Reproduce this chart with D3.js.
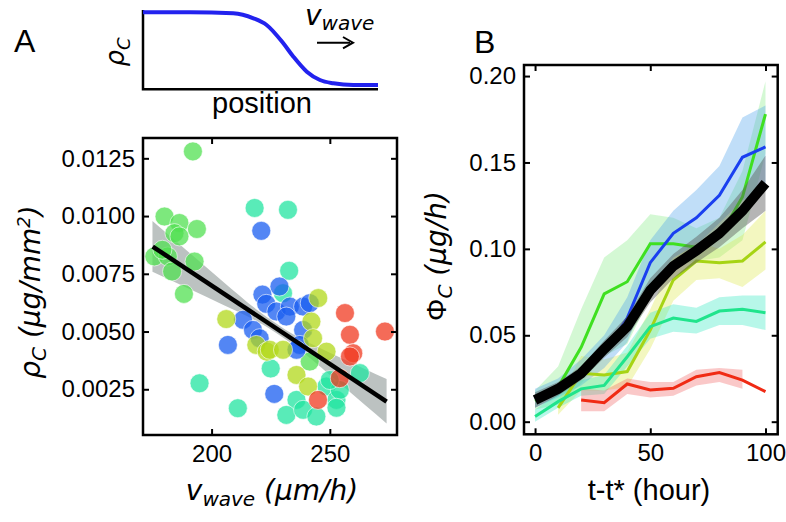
<!DOCTYPE html>
<html lang="en">
<head>
<meta charset="UTF-8">
<title>Wave speed and density</title>
<script src="https://cdn.jsdelivr.net/npm/d3@7"></script>
<style>
  body { margin: 0; background: #fff; }
  svg { display: block; font-family: "Liberation Sans", Arial, sans-serif; }
  .tick text { font-size: 24px; fill: #000; }
  .tick line { stroke: #000; stroke-width: 2px; }
  .math { font-family: "DejaVu Sans", sans-serif; font-style: oblique; }
</style>
</head>
<body>
<svg id="fig" width="786" height="522"></svg>
<script>
// ---- panel A inset: schematic density profile ----
const profilePos = [0, 0.2, 0.384, 0.47, 0.526, 0.597, 0.64, 0.697, 0.753, 0.81, 0.895, 1.0];
const profileRho = [0.971, 0.971, 0.958, 0.895, 0.811, 0.58, 0.411, 0.222, 0.117, 0.076, 0.054, 0.054];

// ---- panel A scatter: wave speed vs density, one array per group ----
const ptsGreen = [[192.1, 0.0128], [180.1, 0.00998], [186.4, 0.0097], [193.8, 0.00944], [184.3, 0.00926],
  [186.4, 0.00912], [175.8, 0.00825], [181.5, 0.00825], [192.8, 0.00803], [183.3, 0.0076],
  [179.2, 0.00854], [188.3, 0.00663], [241.5, 0.0037]];
const ptsBlue = [[221, 0.00936], [228.7, 0.00695], [221.5, 0.0066], [223.1, 0.0062], [213.3, 0.00551],
  [217.5, 0.00507], [220.3, 0.00471], [206.9, 0.00442], [226.5, 0.0023], [227.4, 0.00587],
  [233.1, 0.00608], [238.7, 0.00608], [241.5, 0.00623], [231.6, 0.00565], [238.7, 0.00507],
  [237.3, 0.00442], [235.9, 0.00421]];
const ptsYellow = [[206.2, 0.00554], [218.9, 0.00442], [223.3, 0.00413], [245.1, 0.00645], [242.2, 0.00543],
  [242.9, 0.00471], [224.6, 0.00421], [230.2, 0.00421], [248.6, 0.00413], [235.9, 0.00312], [240.8, 0.00262]];
const ptsTeal = [[218.2, 0.01035], [232.3, 0.01027], [232.8, 0.00763], [194.9, 0.00276], [211.1, 0.00168],
  [225, 0.0034], [230.2, 0.00666], [235.9, 0.00204], [231.6, 0.00139], [238.7, 0.00161],
  [244.3, 0.00132], [248.6, 0.00262], [252.8, 0.00204], [254.2, 0.00247], [262.7, 0.0032],
  [250, 0.0029], [252.8, 0.0017]];
const ptsRed = [[245, 0.00204], [254.2, 0.00298], [256.4, 0.0058], [258.5, 0.00486], [259.9, 0.00406],
  [258.5, 0.00392], [273.3, 0.005]];

// regression line and its confidence band
const fitV = [175.1, 274.0];
const fitRho = [0.00868, 0.00197];
const bandV = [175, 190, 205, 220, 235, 250, 265, 274];
const bandLo = [0.00759, 0.00687, 0.00615, 0.0054, 0.00439, 0.00312, 0.00181, 0.00102];
const bandHi = [0.00979, 0.00847, 0.00715, 0.00588, 0.00485, 0.00408, 0.00337, 0.00294];

const ticksVA = [200, 250];
const ticksRhoA = [0.0025, 0.005, 0.0075, 0.01, 0.0125];

// ---- panel B: flux vs time ----
const tAll = [0, 10, 20, 30, 40, 50, 60, 70, 80, 90, 100];
const meanFlux = [0.0125, 0.019, 0.028, 0.042, 0.055, 0.076, 0.09, 0.099, 0.109, 0.122, 0.138];
const meanLo = [0.008, 0.015, 0.024, 0.037, 0.049, 0.069, 0.083, 0.092, 0.101, 0.112, 0.122];
const meanHi = [0.017, 0.023, 0.032, 0.047, 0.061, 0.083, 0.097, 0.107, 0.118, 0.134, 0.154];

const blueFlux = [0.013, 0.019, 0.028, 0.04, 0.06, 0.092, 0.109, 0.118, 0.131, 0.153, 0.159];
const blueLo = [0.008, 0.014, 0.021, 0.031, 0.046, 0.078, 0.095, 0.102, 0.115, 0.128, 0.135];
const blueHi = [0.019, 0.025, 0.036, 0.05, 0.072, 0.105, 0.122, 0.134, 0.148, 0.176, 0.183];

const greenFlux = [0.012, 0.02, 0.043, 0.074, 0.081, 0.103, 0.103, 0.101, 0.107, 0.13, 0.178];
const greenLo = [0.007, 0.01, 0.022, 0.038, 0.045, 0.072, 0.09, 0.093, 0.095, 0.105, 0.155];
const greenHi = [0.018, 0.032, 0.065, 0.095, 0.105, 0.12, 0.118, 0.112, 0.118, 0.145, 0.197];

const tYellow = [10, 20, 30, 40, 50, 60, 70, 80, 90, 100];
const yellowFlux = [0.008, 0.028, 0.027, 0.029, 0.053, 0.082, 0.093, 0.092, 0.093, 0.104];
const yellowLo = [0.004, 0.018, 0.018, 0.02, 0.042, 0.07, 0.082, 0.083, 0.078, 0.088];
const yellowHi = [0.012, 0.038, 0.036, 0.04, 0.065, 0.094, 0.104, 0.1, 0.108, 0.122];

const tealFlux = [0.003, 0.0116, 0.019, 0.021, 0.0376, 0.055, 0.06, 0.058, 0.064, 0.065, 0.063];
const tealLo = [0.0, 0.008, 0.015, 0.016, 0.032, 0.048, 0.052, 0.051, 0.056, 0.056, 0.053];
const tealHi = [0.007, 0.016, 0.024, 0.027, 0.044, 0.063, 0.068, 0.066, 0.072, 0.073, 0.073];

const tRed = [20, 30, 40, 50, 60, 70, 80, 90, 100];
const redFlux = [0.0126, 0.011, 0.0218, 0.0183, 0.0193, 0.026, 0.0284, 0.0241, 0.0174];
const tRedBand = [20, 30, 40, 50, 60, 70, 80, 90];
const redLo = [0.006, 0.006, 0.016, 0.014, 0.015, 0.021, 0.023, 0.019];
const redHi = [0.019, 0.018, 0.025, 0.023, 0.023, 0.03, 0.031, 0.03];

const ticksTB = [0, 50, 100];
const ticksFluxB = [0, 0.05, 0.1, 0.15, 0.2];

// ---------------------------------------------------------------
const svg = d3.select("#fig");
const zip = (xs, ys) => xs.map((x, i) => [x, ys[i]]);
const zip3 = (xs, lo, hi) => xs.map((x, i) => [x, lo[i], hi[i]]);

// frame with mirrored inward ticks on all four sides
function frame(g, x, y, xt, yt, xfmt, yfmt) {
  const [x0, x1] = x.range(), [y0, y1] = y.range();
  g.append("g").attr("transform", `translate(0,${y0})`)
    .call(d3.axisBottom(x).tickValues(xt).tickSize(-6).tickSizeOuter(0).tickPadding(10).tickFormat(xfmt));
  g.append("g").attr("transform", `translate(0,${y1})`)
    .call(d3.axisTop(x).tickValues(xt).tickSize(-6).tickSizeOuter(0).tickFormat(""));
  g.append("g").attr("transform", `translate(${x0},0)`)
    .call(d3.axisLeft(y).tickValues(yt).tickSize(-6).tickSizeOuter(0).tickPadding(8).tickFormat(yfmt));
  g.append("g").attr("transform", `translate(${x1},0)`)
    .call(d3.axisRight(y).tickValues(yt).tickSize(-6).tickSizeOuter(0).tickFormat(""));
  g.selectAll(".domain").remove();
  g.append("rect").attr("x", x0).attr("y", y1).attr("width", x1 - x0).attr("height", y0 - y1)
    .attr("fill", "none").attr("stroke", "#000").attr("stroke-width", 2.5);
}

// ---- Panel A inset ----
const xI = d3.scaleLinear().domain([0, 1]).range([143, 378]);
const yI = d3.scaleLinear().domain([0, 1]).range([89.3, 10]);
svg.append("path")
  .attr("d", `M${xI(0)},${yI(1)}V${yI(0)}H${xI(1)}`)
  .attr("fill", "none").attr("stroke", "#000").attr("stroke-width", 2.5);
svg.append("path")
  .attr("d", d3.line().x(d => xI(d[0])).y(d => yI(d[1])).curve(d3.curveMonotoneX)(zip(profilePos, profileRho)))
  .attr("fill", "none").attr("stroke", "#2222ee").attr("stroke-width", 4);
svg.append("text").attr("x", 262).attr("y", 113).attr("text-anchor", "middle")
  .attr("font-size", 29).text("position");
const rl = svg.append("text").attr("class", "math").attr("font-size", 26)
  .attr("transform", "translate(124,52) rotate(-90)").attr("text-anchor", "middle");
rl.append("tspan").text("ρ");
rl.append("tspan").attr("dy", 6).attr("font-size", 18).text("C");
const vw = svg.append("text").attr("class", "math").attr("x", 305).attr("y", 25).attr("font-size", 28);
vw.append("tspan").text("v");
vw.append("tspan").attr("dy", 5).attr("font-size", 20).text("wave");
svg.append("line").attr("x1", 317).attr("x2", 350).attr("y1", 42.7).attr("y2", 42.7)
  .attr("stroke", "#000").attr("stroke-width", 2);
svg.append("path").attr("d", "M343,37L353,42.7L343,48.4").attr("fill", "none")
  .attr("stroke", "#000").attr("stroke-width", 2);

svg.append("text").attr("x", 14).attr("y", 52).attr("font-size", 32).text("A");
svg.append("text").attr("x", 474).attr("y", 53).attr("font-size", 32).text("B");

// ---- Panel A scatter ----
const xA = d3.scaleLinear().domain([171, 278.4]).range([143, 397]);
const yA = d3.scaleLinear().domain([0.00052, 0.01338]).range([435, 138]);
const gA = svg.append("g");

gA.append("path")
  .attr("d", d3.area().x(d => xA(d[0])).y0(d => yA(d[1])).y1(d => yA(d[2])).curve(d3.curveMonotoneX)(zip3(bandV, bandLo, bandHi)))
  .attr("fill", "#8f9a98").attr("opacity", 0.6);

const groups = [
  { pts: ptsTeal, color: "#22e4a0" },
  { pts: ptsGreen, color: "#52e052" },
  { pts: ptsBlue, color: "#1a5ef0" },
  { pts: ptsYellow, color: "#b2d81a" },
  { pts: ptsRed, color: "#f03a20" }
];
groups.forEach(gr => {
  gA.append("g").selectAll("circle").data(gr.pts).join("circle")
    .attr("cx", d => xA(d[0])).attr("cy", d => yA(d[1])).attr("r", 9.5)
    .attr("fill", gr.color).attr("fill-opacity", 0.75)
    .attr("stroke", "#fff").attr("stroke-opacity", 0.6).attr("stroke-width", 1);
});
gA.append("path")
  .attr("d", d3.line().x(d => xA(d[0])).y(d => yA(d[1]))(zip(fitV, fitRho)))
  .attr("stroke", "#000").attr("stroke-width", 4.5).attr("fill", "none");

frame(gA, xA, yA, ticksVA, ticksRhoA, d3.format("d"), d3.format(".4f"));

const xlA = svg.append("text").attr("class", "math").attr("x", 272).attr("y", 500)
  .attr("text-anchor", "middle").attr("font-size", 28);
xlA.append("tspan").text("v");
xlA.append("tspan").attr("dy", 6).attr("font-size", 20).text("wave");
xlA.append("tspan").attr("dy", -6).text(" (μm/h)");

const ylA = svg.append("text").attr("class", "math").attr("font-size", 28)
  .attr("transform", "translate(40,292) rotate(-90)").attr("text-anchor", "middle");
ylA.append("tspan").text("ρ");
ylA.append("tspan").attr("dy", 6).attr("font-size", 20).text("C");
ylA.append("tspan").attr("dy", -6).text(" (μg/mm");
ylA.append("tspan").attr("dy", -10).attr("font-size", 18).text("2");
ylA.append("tspan").attr("dy", 10).text(")");

// ---- Panel B ----
const xB = d3.scaleLinear().domain([-4.8, 105.3]).range([524, 777.7]);
const yB = d3.scaleLinear().domain([-0.0073, 0.2064]).range([434.3, 65]);
const gB = svg.append("g");
const area = d3.area().x(d => xB(d[0])).y0(d => yB(d[1])).y1(d => yB(d[2]));
const line = d3.line().x(d => xB(d[0])).y(d => yB(d[1]));

const series = [
  { t: tAll, f: greenFlux, bt: tAll, lo: greenLo, hi: greenHi, line: "#3fe020", band: "#70e870", a: 0.3 },
  { t: tYellow, f: yellowFlux, bt: tYellow, lo: yellowLo, hi: yellowHi, line: "#a6d414", band: "#dce84a", a: 0.35 },
  { t: tAll, f: blueFlux, bt: tAll, lo: blueLo, hi: blueHi, line: "#1a3ff0", band: "#4aa0ea", a: 0.35 },
  { t: tAll, f: tealFlux, bt: tAll, lo: tealLo, hi: tealHi, line: "#20e48c", band: "#30e8c0", a: 0.35 },
  { t: tRed, f: redFlux, bt: tRedBand, lo: redLo, hi: redHi, line: "#f02a14", band: "#f06060", a: 0.35 }
];
series.forEach(s => {
  gB.append("path").attr("d", area(zip3(s.bt, s.lo, s.hi)))
    .attr("fill", s.band).attr("opacity", s.a);
});
series.forEach(s => {
  gB.append("path").attr("d", line(zip(s.t, s.f)))
    .attr("fill", "none").attr("stroke", s.line).attr("stroke-width", 3);
});
gB.append("path").attr("d", area(zip3(tAll, meanLo, meanHi)))
  .attr("fill", "#5a5a5a").attr("opacity", 0.45);
gB.append("path").attr("d", line(zip(tAll, meanFlux)))
  .attr("fill", "none").attr("stroke", "#000").attr("stroke-width", 10);

frame(gB, xB, yB, ticksTB, ticksFluxB, d3.format("d"), d3.format(".2f"));

svg.append("text").attr("x", 649).attr("y", 500).attr("text-anchor", "middle")
  .attr("font-size", 29).text("t-t* (hour)");
const ylB = svg.append("text").attr("font-size", 28)
  .attr("transform", "translate(446,256) rotate(-90)").attr("text-anchor", "middle");
ylB.append("tspan").text("Φ");
ylB.append("tspan").attr("class", "math").attr("dy", 6).attr("font-size", 20).text("C");
ylB.append("tspan").attr("class", "math").attr("dy", -6).text(" (μg/h)");
</script>
</body>
</html>
